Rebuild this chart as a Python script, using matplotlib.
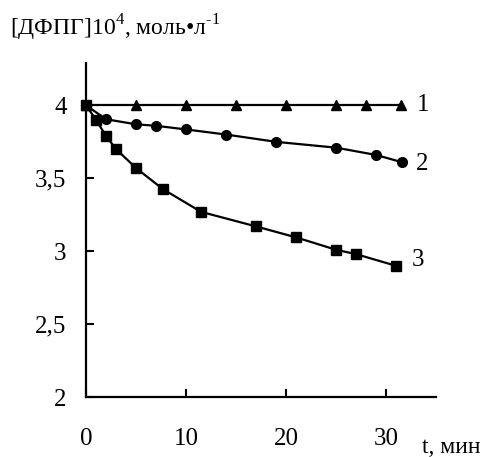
import matplotlib.pyplot as plt

plt.rcParams['font.family'] = ['Liberation Serif', 'DejaVu Serif']
plt.rcParams['mathtext.fontset'] = 'custom'
plt.rcParams['mathtext.rm'] = 'Liberation Serif'

# curve 1
t1 = [0, 5, 10, 15, 20, 25, 28, 31.5]
c1 = [4, 4, 4, 4, 4, 4, 4, 4]
# curve 2
t2 = [0, 2, 5, 7, 10, 14, 19, 25, 29, 31.6]
c2 = [4, 3.905, 3.87, 3.86, 3.835, 3.80, 3.75, 3.71, 3.66, 3.61]
# curve 3
t3 = [0, 1, 2, 3, 5, 7.7, 11.5, 17, 21, 25, 27, 31]
c3 = [4, 3.90, 3.79, 3.70, 3.57, 3.425, 3.27, 3.17, 3.095, 3.01, 2.98, 2.90]

fig = plt.figure(figsize=(4.89, 4.57), dpi=100)
ax = fig.add_axes([0.176, 0.131, 0.716, 0.731])

ax.plot(t1, c1, color='black', lw=1.6, marker='^', ms=7, clip_on=False)
ax.plot(t2, c2, color='black', lw=1.6, marker='o', ms=7, clip_on=False)
ax.plot(t3, c3, color='black', lw=1.6, marker='s', ms=7.5, clip_on=False)

ax.text(33.7, 4.0, '1', fontsize=18, va='center', ha='center')
ax.text(33.6, 3.60, '2', fontsize=18, va='center', ha='center')
ax.text(33.2, 2.94, '3', fontsize=18, va='center', ha='center')

ax.set_xlim(0, 35)
ax.set_ylim(2, 4.29)
ax.set_xticks([0, 10, 20, 30])
ax.set_yticks([2, 2.5, 3, 3.5, 4])
ax.set_yticklabels(['2', '2,5', '3', '3,5', '4'])
ax.tick_params(direction='in', length=6, width=1.5, labelsize=18)
ax.tick_params(axis='x', pad=22)
ax.tick_params(axis='y', pad=14)

for s in ['top', 'right']:
    ax.spines[s].set_visible(False)
for s in ['left', 'bottom']:
    ax.spines[s].set_linewidth(1.6)

fig.text(0.02, 0.94, r'[ДФПГ]10$^4$, моль•л$^{\text{-}1}$', fontsize=17, va='center', ha='left')
fig.text(0.863, 0.044, 't, мин', fontsize=17, va='top', ha='left')

fig.savefig('out.png', dpi=100)
